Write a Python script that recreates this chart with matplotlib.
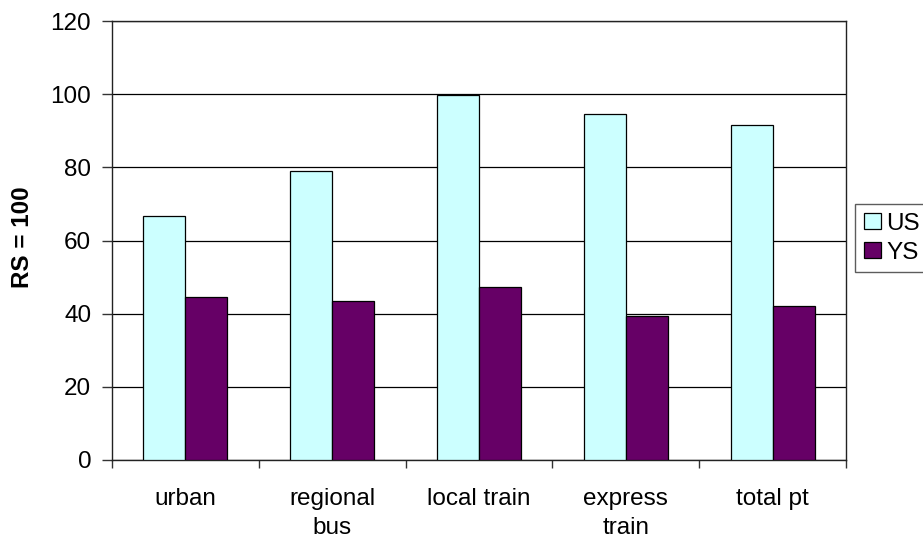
import matplotlib
matplotlib.use("Agg")
import matplotlib.pyplot as plt
import numpy as np
from matplotlib.patches import Patch

categories = ["urban", "regional\nbus", "local train", "express\ntrain", "total pt"]
series_names = ["US", "YS"]
us_values = [66.7, 79.1, 99.8, 94.5, 91.5]
ys_values = [44.5, 43.4, 47.4, 39.3, 42.2]
y_ticks = [0, 20, 40, 60, 80, 100, 120]
y_label = "RS = 100"

plt.rcParams['font.family'] = ['Liberation Sans', 'DejaVu Sans']
FS = 17.5

fig = plt.figure(figsize=(9.23, 5.4), dpi=100)
ax = fig.add_axes([112/923, 80/540, (846-112)/923, (460-21)/540])

x = np.arange(len(categories))
w = 1/3.5
colors = ["#CCFFFF", "#660066"]
ax.bar(x - w/2, us_values, w, color=colors[0], edgecolor="black", linewidth=0.9, zorder=3)
ax.bar(x + w/2, ys_values, w, color=colors[1], edgecolor="black", linewidth=0.9, zorder=3)

ax.set_xlim(-0.5, len(categories) - 0.5)
ax.set_ylim(0, 120)
ax.set_yticks(y_ticks)
ax.set_yticklabels([str(t) for t in y_ticks], fontsize=FS)
ax.set_xticks(x)
ax.set_xticklabels(categories, fontsize=FS, linespacing=1.45, va="top")
ax.tick_params(axis='x', which='major', length=0, pad=20)
ax.set_xticks(np.arange(-0.5, len(categories), 1.0), minor=True)
ax.tick_params(axis='x', which='minor', length=6, width=1, direction='out', color="#333333")
ax.tick_params(axis='y', length=7, width=1, direction='out', color="#333333", pad=8)
ax.grid(axis='y', color='black', linewidth=0.9, zorder=0)
for s in ax.spines.values():
    s.set_color("#222222")
    s.set_linewidth(1.0)

fig.text(23/923, 1 - 237/540, y_label, rotation=90, ha='center', va='center',
         fontsize=FS, fontweight='bold')

handles = [Patch(facecolor=c, edgecolor='black', linewidth=0.9) for c in colors]
leg = fig.legend(handles, series_names, loc='upper left', bbox_to_anchor=(855/923, 1 - 204/540),
                 fontsize=FS, frameon=True, fancybox=False, borderpad=0.35,
                 handlelength=0.7, handleheight=0.65, handletextpad=0.25, labelspacing=0.3,
                 borderaxespad=0)
leg.get_frame().set_edgecolor('#333333')
leg.get_frame().set_linewidth(1.0)

fig.savefig("out.png", dpi=100)
